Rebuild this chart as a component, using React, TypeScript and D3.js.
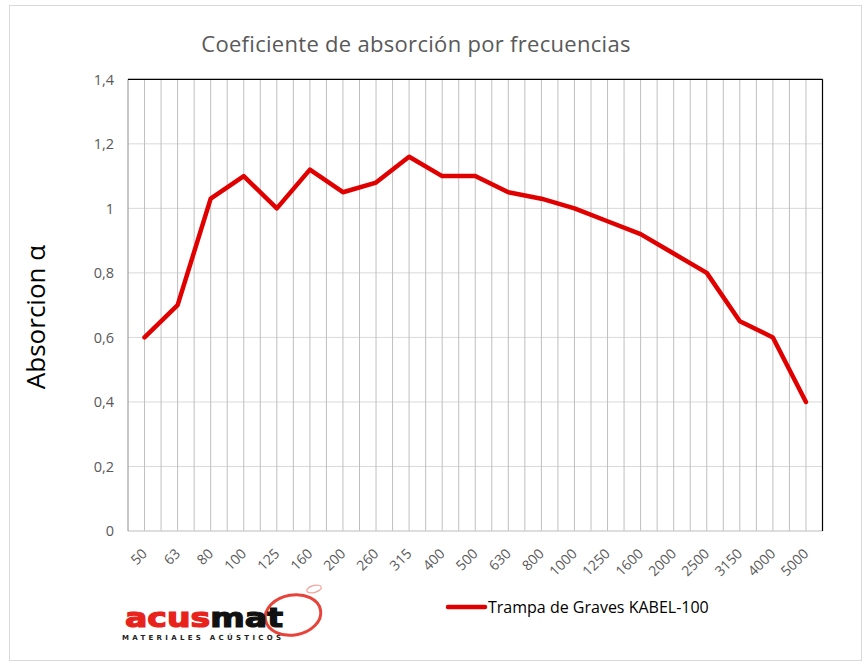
import React from "react";
import * as d3 from "d3";

const categories = ["50","63","80","100","125","160","200","260","315","400","500","630","800","1000","1250","1600","2000","2500","3150","4000","5000"];
const absorption = [0.6,0.7,1.03,1.1,1.0,1.12,1.05,1.08,1.16,1.1,1.1,1.05,1.03,1.0,0.96,0.92,0.86,0.8,0.65,0.6,0.4];
const yTicks = [0,0.2,0.4,0.6,0.8,1.0,1.2,1.4];
const title = "Coeficiente de absorción por frecuencias";
const yLabel = "Absorcion α";
const seriesName = "Trampa de Graves KABEL-100";

const W = 867, H = 669;
const L = 128, R = 822.5, T = 79.3, B = 531;

export default function App() {
  const x = d3.scaleBand<string>().domain(categories).range([L, R]).paddingInner(0).paddingOuter(0);
  const cx = (c: string) => (x(c) as number) + x.bandwidth() / 2;
  const y = d3.scaleLinear().domain([0, 1.4]).range([B, T]);
  const line = d3.line<number>().x((_, i) => cx(categories[i])).y(d => y(d));
  const fmt = (v: number) => (Math.round(v * 10) / 10).toString().replace(".", ",");
  const vlines: number[] = [];
  categories.forEach(c => { vlines.push(x(c) as number); vlines.push(cx(c)); });
  const font = "'Open Sans', 'Noto Sans', sans-serif";
  return (
    <div style={{ position: "fixed", left: 0, top: 0 }}>
      <svg width={W} height={H} style={{ display: "block", background: "#fff" }}>
        <rect x={9.5} y={5.5} width={852} height={655} fill="#fff" stroke="#d9d9d9" strokeWidth={1} />
        <text x={416} y={52} textAnchor="middle" fontFamily={font} fontSize={22} letterSpacing={0.3} fill="#595959">{title}</text>
        {yTicks.map(t => (
          <line key={"h" + t} x1={L} x2={R} y1={y(t)} y2={y(t)} stroke="#d9d9d9" strokeWidth={1} />
        ))}
        {vlines.slice(1).map((v, i) => (
          <line key={"v" + i} x1={v} x2={v} y1={T} y2={B} stroke="#bfbfbf" strokeWidth={1} />
        ))}
        <line x1={L} x2={R} y1={B} y2={B} stroke="#d0d0d0" strokeWidth={1} />
        <line x1={L} x2={L} y1={T} y2={B} stroke="#8c8c8c" strokeWidth={1} />
        <line x1={L} x2={R} y1={T} y2={T} stroke="#000" strokeWidth={1.2} />
        <line x1={R} x2={R} y1={T} y2={B} stroke="#000" strokeWidth={1.2} />
        {yTicks.map(t => (
          <text key={"yt" + t} x={114} y={y(t)} dy="0.36em" textAnchor="end" fontFamily={font} fontSize={14.5} fill="#595959">{fmt(t)}</text>
        ))}
        {categories.map(c => (
          <text key={"xt" + c} transform={`translate(${cx(c)},${B + 20}) rotate(-45)`} textAnchor="end" fontFamily={font} fontSize={14} fill="#595959" dy="0.35em">{c}</text>
        ))}
        <text transform={`translate(45,${317}) rotate(-90)`} textAnchor="middle" fontFamily={font} fontSize={26} fill="#000">{yLabel}</text>
        <path d={line(absorption) || ""} fill="none" stroke="#e00000" strokeWidth={4.5} strokeLinejoin="round" strokeLinecap="round" />
        <line x1={448} x2={485} y1={607} y2={607} stroke="#e00000" strokeWidth={4.5} strokeLinecap="round" />
        <text x={488} y={607} dy="0.36em" fontFamily={font} fontSize={16} fill="#000">{seriesName}</text>
        <g>
          <ellipse cx={293} cy={615} rx={28} ry={20} fill="none" stroke="#e8433a" strokeWidth={3} transform="rotate(-10,293,615)" />
          <ellipse cx={314} cy={589} rx={7.5} ry={3.5} fill="none" stroke="#f2a09a" strokeWidth={1.2} transform="rotate(-15,314,589)" />
          <text x={125} y={627} fontFamily="'DejaVu Sans', sans-serif" fontWeight={700} fontSize={27} textLength={158} lengthAdjust="spacingAndGlyphs" strokeWidth={1.2}>
            <tspan fill="#e8231c" stroke="#e8231c">acus</tspan><tspan fill="#111" stroke="#111">mat</tspan>
          </text>
          <text x={122} y={640} fontFamily="'DejaVu Sans', sans-serif" fontWeight={700} fontSize={7} letterSpacing={3.3} fill="#222">MATERIALES ACÚSTICOS</text>
        </g>
      </svg>
    </div>
  );
}
